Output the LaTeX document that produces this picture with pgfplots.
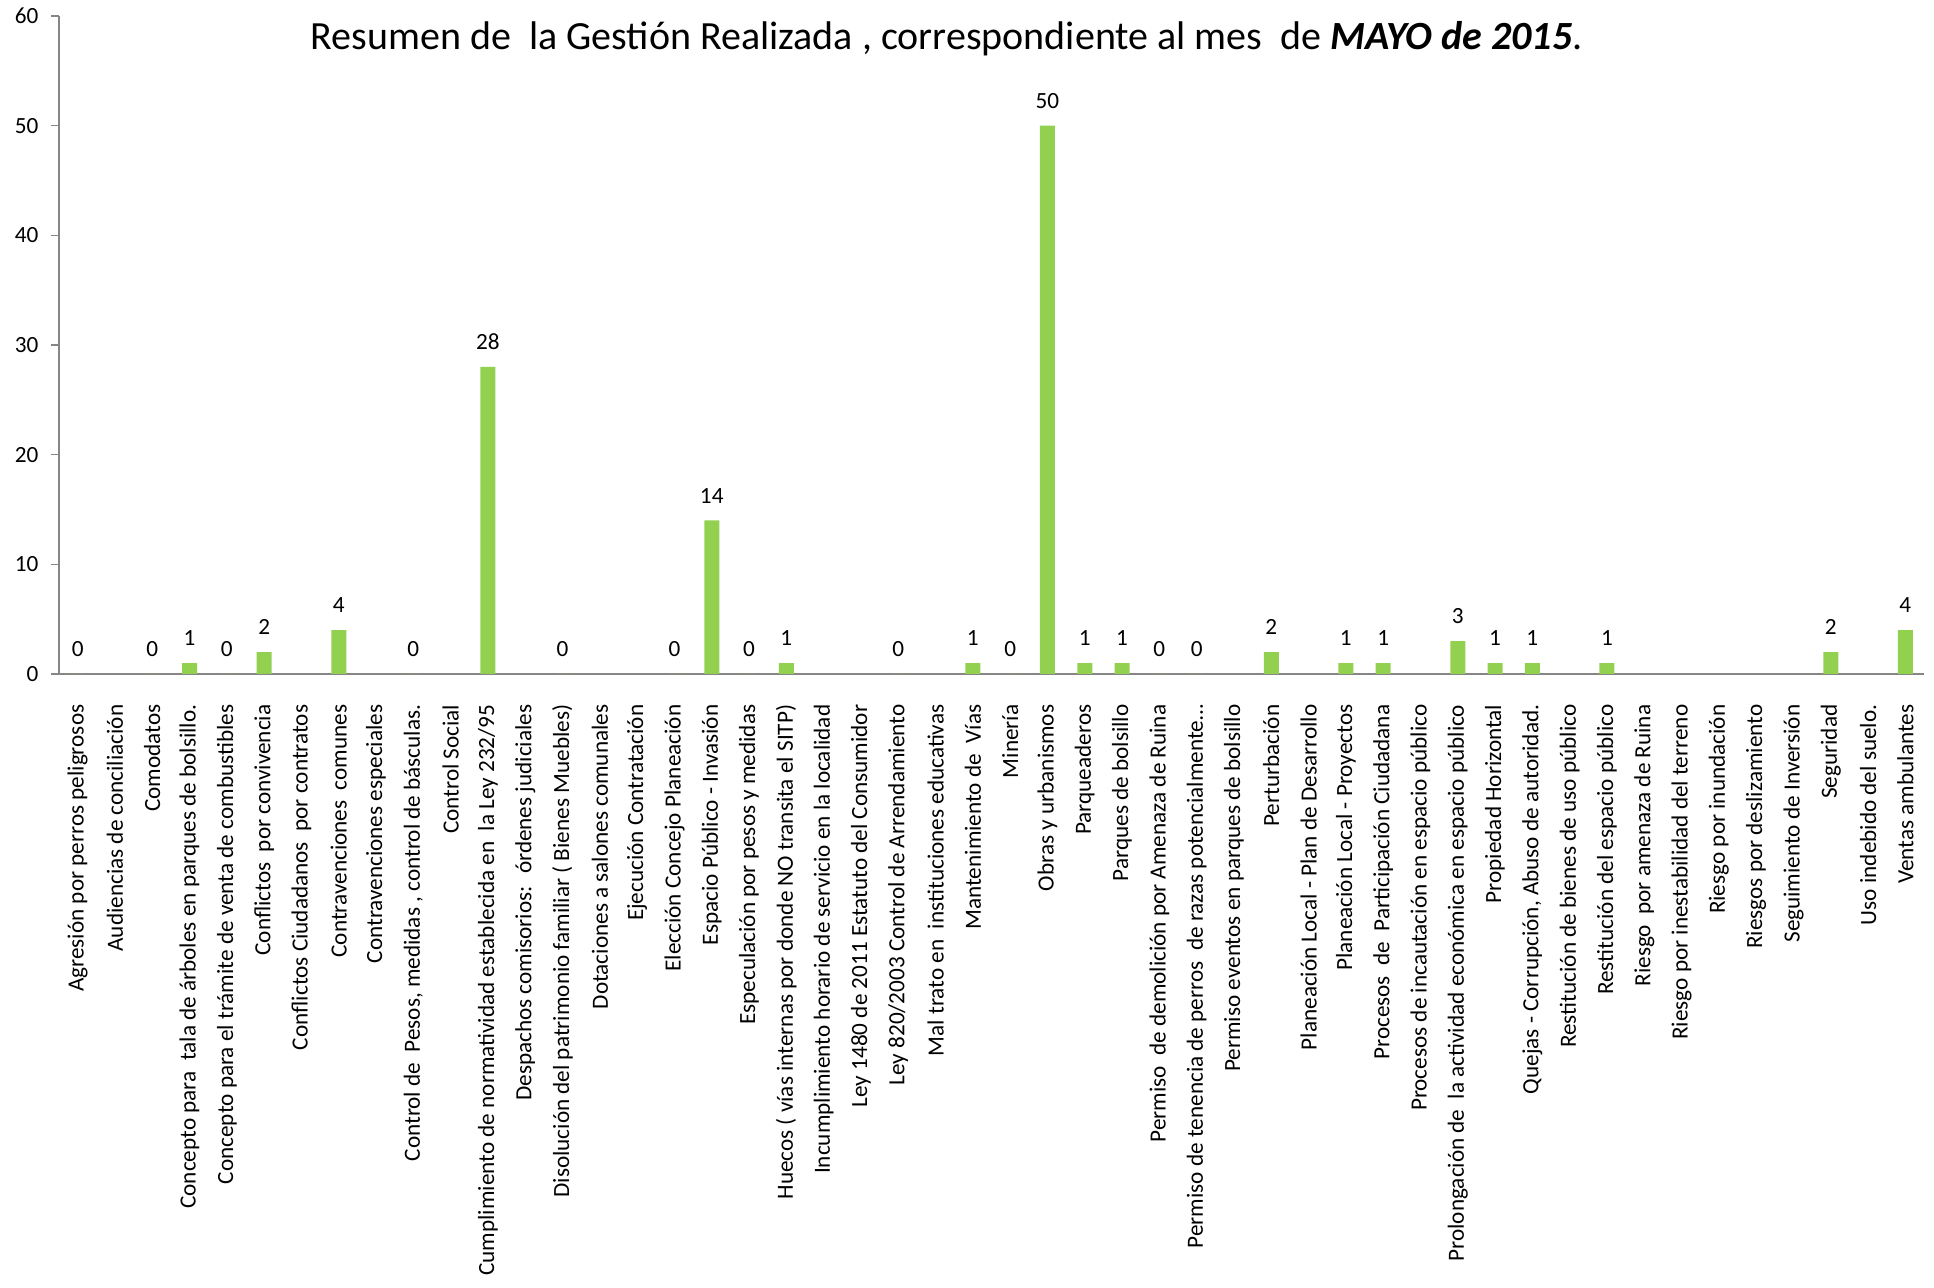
\documentclass[border=0pt]{standalone}
\usepackage{pgfplots}
\pgfplotsset{compat=1.18}
\usepackage{fontspec}
\setmainfont{Carlito}
\definecolor{bargreen}{HTML}{92D050}
\definecolor{axgray}{HTML}{868686}
\begin{document}
\begin{tikzpicture}
\useasboundingbox (0,0) rectangle (967pt,644pt);
\begin{axis}[
  at={(29.5pt,307pt)}, anchor=south west,
  scale only axis, width=932.5pt, height=329pt,
  xmin=-0.5, xmax=49.5, ymin=0, ymax=60,
  axis x line*=bottom, axis y line*=left,
  axis line style={axgray, line width=0.8pt},
  tick align=outside,
  ytick={0,10,...,60},
  ytick style={axgray, line width=0.8pt},
  major tick length=3.8pt,
  xtick={0,...,49},
  major x tick style={draw=none},
  extra x ticks={-0.5,0.5,...,49.5},
  extra x tick labels={},
  extra x tick style={major tick length=3.8pt, tick style={axgray, line width=0.8pt}},
  /pgf/number format/assume math mode=true,
  yticklabel style={font=\fontsize{11.6}{13}\selectfont, text=black},
  yticklabel shift=3pt,
  xticklabel style={font=\fontsize{11.6}{13}\selectfont, text=black, rotate=90, anchor=east},
  xticklabel shift=8pt,
  xticklabels={
    Agresión por perros peligrosos,
    Audiencias de conciliación,
    Comodatos,
    Concepto para~ tala de árboles en parques de bolsillo.,
    Concepto para el trámite de venta de combustibles,
    Conflictos~ por convivencia,
    Conflictos Ciudadanos~ por contratos,
    Contravenciones~ comunes,
    Contravenciones especiales,
    {Control de~ Pesos, medidas , control de básculas.},
    Control Social,
    Cumplimiento de normatividad establecida en~ la Ley 232/95,
    Despachos comisorios:~ órdenes judiciales,
    Disolución del patrimonio familiar ( Bienes Muebles),
    Dotaciones a salones comunales,
    Ejecución Contratación,
    Elección Concejo Planeación,
    Espacio Público - Invasión,
    Especulación por pesos y medidas,
    Huecos ( vías internas por donde NO transita el SITP),
    Incumplimiento horario de servicio en la localidad,
    Ley 1480 de 2011 Estatuto del Consumidor,
    Ley 820/2003 Control de Arrendamiento,
    Mal trato en~ instituciones educativas,
    Mantenimiento de~ Vías,
    Minería,
    Obras y urbanismos,
    Parqueaderos,
    Parques de bolsillo,
    Permiso~ de demolición por Amenaza de Ruina,
    {Permiso de tenencia de perros~ de razas potencialmente\ldots},
    Permiso eventos en parques de bolsillo,
    Perturbación,
    Planeación Local - Plan de Desarrollo,
    Planeación Local - Proyectos,
    Procesos~ de~ Participación Ciudadana,
    Procesos de incautación en espacio público,
    Prolongación de~ la actividad económica en espacio público,
    Propiedad Horizontal,
    {Quejas - Corrupción, Abuso de autoridad.},
    Restitución de bienes de uso público,
    Restitución del espacio público,
    Riesgo~ por amenaza de Ruina,
    Riesgo por inestabilidad del terreno,
    Riesgo por inundación,
    Riesgos por deslizamiento,
    Seguimiento de Inversión,
    Seguridad,
    Uso indebido del suelo.,
    Ventas ambulantes},
]
\addplot[ybar, bar width=7.5pt, fill=bargreen, draw=none,
  nodes near coords,
  every node near coord/.append style={font=\fontsize{11.6}{13}\selectfont, text=black, anchor=center, yshift=12.4pt}]
coordinates {
 (0,0) (2,0) (3,1) (4,0) (5,2) (7,4) (9,0) (11,28) (13,0) (16,0) (17,14)
 (18,0) (19,1) (22,0) (24,1) (25,0) (26,50) (27,1) (28,1) (29,0) (30,0)
 (32,2) (34,1) (35,1) (37,3) (38,1) (39,1) (41,1) (47,2) (49,4)
};
\end{axis}
\node[anchor=base, font=\fontsize{20}{24}\selectfont] at (473.3pt,619.4pt)
  {Resumen de~ la Gestión Realizada , correspondiente al mes~ de \textbf{\textit{MAYO de 2015}}.};
\end{tikzpicture}
\end{document}
